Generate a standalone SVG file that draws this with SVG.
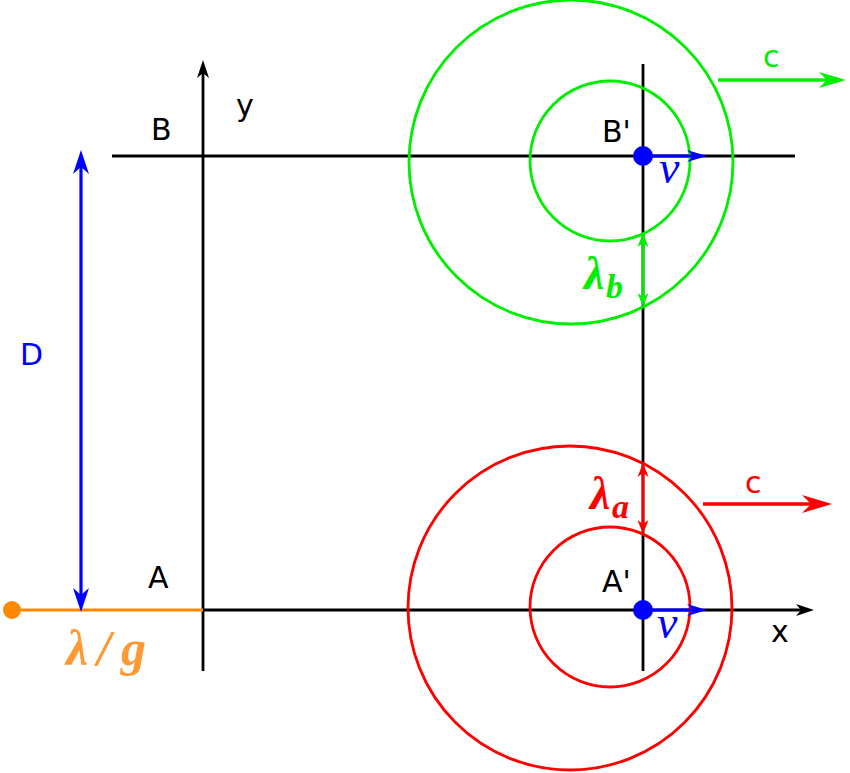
<svg xmlns="http://www.w3.org/2000/svg" width="850" height="773" viewBox="0 0 850 773">
  <style>
    .ax { stroke: #000; stroke-width: 2.8; fill: none; }
    .gw { stroke: #00ee00; stroke-width: 2.8; fill: none; }
    .rw { stroke: #ff0000; stroke-width: 2.8; fill: none; }
    .lbl { font-family: "DejaVu Sans", Verdana, sans-serif; font-size: 30px; }
    .math { font-family: "Liberation Serif", "Times New Roman", serif; font-style: italic; font-weight: bold; }
    .vel { font-family: "Liberation Serif", "Times New Roman", serif; font-style: italic; font-size: 46px; fill: #0000ff; }
  </style>
  <defs>
    <marker id="ak" markerUnits="userSpaceOnUse" orient="auto-start-reverse" refX="-13" refY="0" markerWidth="1" markerHeight="1" overflow="visible">
      <path d="M0,0 L-18,-6 L-13,0 L-18,6 Z" fill="#000"/>
    </marker>
    <marker id="bd" markerUnits="userSpaceOnUse" orient="auto-start-reverse" refX="-17" refY="0" markerWidth="1" markerHeight="1" overflow="visible">
      <path d="M0,0 L-24,-8 L-17,0 L-24,8 Z" fill="#0000ff"/>
    </marker>
    <marker id="bv" markerUnits="userSpaceOnUse" orient="auto-start-reverse" refX="-14" refY="0" markerWidth="1" markerHeight="1" overflow="visible">
      <path d="M0,0 L-20,-6 L-14,0 L-20,6 Z" fill="#0000ff"/>
    </marker>
    <marker id="gl" markerUnits="userSpaceOnUse" orient="auto-start-reverse" refX="-10" refY="0" markerWidth="1" markerHeight="1" overflow="visible">
      <path d="M0,0 L-14,-5.5 L-10,0 L-14,5.5 Z" fill="#00ee00"/>
    </marker>
    <marker id="rl" markerUnits="userSpaceOnUse" orient="auto-start-reverse" refX="-10" refY="0" markerWidth="1" markerHeight="1" overflow="visible">
      <path d="M0,0 L-14,-5.5 L-10,0 L-14,5.5 Z" fill="#ff0000"/>
    </marker>
    <marker id="gc" markerUnits="userSpaceOnUse" orient="auto-start-reverse" refX="-19" refY="0" markerWidth="1" markerHeight="1" overflow="visible">
      <path d="M0,0 L-27,-8 L-19,0 L-27,8 Z" fill="#00ee00"/>
    </marker>
    <marker id="rc" markerUnits="userSpaceOnUse" orient="auto-start-reverse" refX="-21" refY="0" markerWidth="1" markerHeight="1" overflow="visible">
      <path d="M0,0 L-30,-9 L-21,0 L-30,9 Z" fill="#ff0000"/>
    </marker>
  </defs>
  <rect width="850" height="773" fill="#fff"/>

  <g id="axes">
    <line class="ax" x1="203" y1="671" x2="203" y2="73" marker-end="url(#ak)"/>
    <line class="ax" x1="203" y1="610" x2="801" y2="610" marker-end="url(#ak)"/>
    <line class="ax" x1="112" y1="156" x2="795" y2="156"/>
    <line class="ax" x1="643" y1="64" x2="643" y2="671"/>
  </g>

  <g id="wave-B">
    <circle class="gw" cx="571" cy="162" r="162"/>
    <circle class="gw" cx="610" cy="161" r="80"/>
  </g>

  <g id="wave-A">
    <circle class="rw" cx="570" cy="608" r="162"/>
    <circle class="rw" cx="610" cy="607" r="80"/>
  </g>

  <g id="connectors">
    <line x1="12" y1="610" x2="203" y2="610" stroke="#ff8800" stroke-width="3.2"/>
    <line x1="81" y1="167" x2="81" y2="595" stroke="#0000ff" stroke-width="3.2" marker-start="url(#bd)" marker-end="url(#bd)"/>
    <line x1="643" y1="243" x2="643" y2="297" stroke="#00ee00" stroke-width="2.8" marker-start="url(#gl)" marker-end="url(#gl)"/>
    <line x1="643" y1="473" x2="643" y2="524" stroke="#ff0000" stroke-width="2.8" marker-start="url(#rl)" marker-end="url(#rl)"/>
    <line x1="643" y1="156" x2="693" y2="156" stroke="#0000ff" stroke-width="3.2" marker-end="url(#bv)"/>
    <line x1="643" y1="610" x2="693" y2="610" stroke="#0000ff" stroke-width="3.2" marker-end="url(#bv)"/>
    <line x1="718" y1="80" x2="827" y2="80" stroke="#00ee00" stroke-width="3.6" marker-end="url(#gc)"/>
    <line x1="703" y1="504" x2="811" y2="504" stroke="#ff0000" stroke-width="3.6" marker-end="url(#rc)"/>
  </g>

  <g id="source-B">
    <circle cx="643" cy="156" r="10" fill="#0000ff"/>
    <text class="lbl" x="602" y="142">B'</text>
    <text class="vel" x="659" y="183">v</text>
  </g>

  <g id="source-A">
    <circle cx="643" cy="610" r="10" fill="#0000ff"/>
    <text class="lbl" x="602" y="592">A'</text>
    <text class="vel" x="657" y="638">v</text>
  </g>

  <g id="origin">
    <circle cx="12" cy="610" r="9" fill="#ff8800"/>
    <text class="math" font-size="50" fill="#ff9933" y="665"><tspan x="66">λ</tspan><tspan x="97">/</tspan><tspan x="121">g</tspan></text>
  </g>

  <g id="labels">
    <text class="lbl" x="151" y="140">B</text>
    <text class="lbl" x="236" y="116">y</text>
    <text class="lbl" x="148" y="588">A</text>
    <text class="lbl" x="771" y="642">x</text>
    <text class="lbl" x="20" y="365" fill="#0000ff">D</text>
    <text class="lbl" x="763" y="67" fill="#00ee00">c</text>
    <text class="lbl" x="745" y="493" fill="#ff0000">c</text>
    <text class="math" fill="#00ee00" y="289"><tspan x="584" font-size="46">λ</tspan><tspan x="606" y="298" font-size="34">b</tspan></text>
    <text class="math" fill="#ff0000" y="509"><tspan x="590" font-size="46">λ</tspan><tspan x="612" y="518" font-size="34">a</tspan></text>
  </g>
</svg>
